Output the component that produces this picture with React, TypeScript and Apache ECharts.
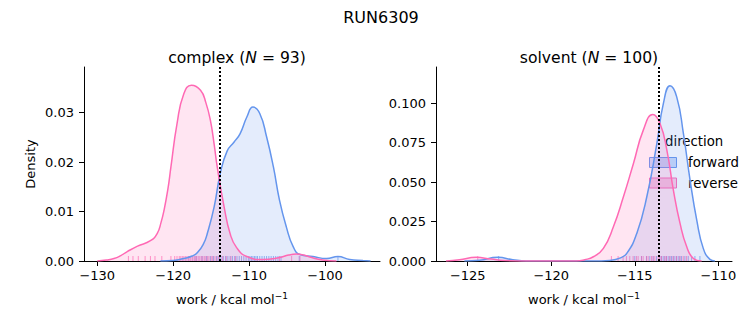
import React, { useEffect, useRef } from 'react';
import * as echarts from 'echarts';

const FONT = 'DejaVu Sans';
const BLUE = '#6495ED';
const PINK = '#FF69B4';
const BLUE_FILL = 'rgba(100,149,237,0.25)';
const PINK_FILL = 'rgba(255,105,180,0.25)';

const suptitle = 'RUN6309';
const directions = ['forward', 'reverse'];

// KDE curves: [work, density]
const complexForward: [number, number][] = [
  [-121.7, 0], [-120, 0.0001], [-118.6, 0.0005], [-117.5, 0.001], [-116.8, 0.0017],
  [-116, 0.0035], [-115.5, 0.0056], [-114.6, 0.011], [-113.8, 0.0177], [-112.9, 0.0222],
  [-112, 0.024], [-111.2, 0.0257], [-110.3, 0.0291], [-109.5, 0.0311], [-108.6, 0.0298],
  [-107.7, 0.0251], [-106.8, 0.019], [-106, 0.0123], [-105.1, 0.0069], [-104.2, 0.0029],
  [-103.3, 0.0013], [-101.6, 0.0009], [-99.8, 0.0005], [-98.3, 0.0009], [-96.75, 0.0003],
  [-95, 0.0001], [-94, 0],
];
const complexReverse: [number, number][] = [
  [-130, 0], [-128.8, 0.0002], [-127.8, 0.0005], [-126.9, 0.0011], [-126.05, 0.0019],
  [-124.7, 0.003], [-123, 0.0041], [-122.1, 0.0056], [-121.6, 0.0078], [-121.2, 0.0103],
  [-120.7, 0.0145], [-120.3, 0.019], [-119.5, 0.0277], [-118.6, 0.0338], [-117.6, 0.0355],
  [-116.4, 0.0345], [-115.7, 0.032], [-115.1, 0.0284], [-114.6, 0.0235], [-114.2, 0.019],
  [-113.3, 0.011], [-112.5, 0.0055], [-111.65, 0.0027], [-110.3, 0.0009], [-108.2, 0.0003],
  [-106, 0.0007], [-104.8, 0.0012], [-103.8, 0.0014], [-102.8, 0.0012], [-102, 0.0008],
  [-100.3, 0.0002], [-98.5, 0],
];
const solventForward: [number, number][] = [
  [-125.2, 0], [-124.3, 0.0005], [-123.2, 0.0023], [-122.3, 0.0008], [-121.5, 0],
  [-117, 0], [-116.5, 0.0003], [-115.9, 0.0018], [-115.48, 0.0048], [-114.88, 0.0175],
  [-114.28, 0.0407], [-113.68, 0.0744], [-113.29, 0.0997], [-112.89, 0.111], [-112.49, 0.104],
  [-112.09, 0.0808], [-111.69, 0.0513], [-111.29, 0.0259], [-110.9, 0.008], [-110.5, 0.001],
  [-110.2, 0],
];
const solventReverse: [number, number][] = [
  [-126.3, 0], [-125.5, 0.0008], [-124.5, 0.0023], [-123.6, 0.0012], [-122.8, 0.0003],
  [-121.5, 0], [-118.5, 0], [-118, 0.0008], [-117.48, 0.0027], [-116.88, 0.008],
  [-116.28, 0.0217], [-115.68, 0.0407], [-115.08, 0.0618], [-114.49, 0.0829], [-113.92, 0.0928],
  [-113.49, 0.0871], [-113.08, 0.0703], [-112.69, 0.0449], [-112.29, 0.0238], [-111.89, 0.009],
  [-111.49, 0.0016], [-111, 0],
];

// rug samples (work values)
const complexForwardRug = [
  -117.0, -116.2, -115.6, -115.1, -114.7, -114.3, -114.0, -113.7, -113.4, -113.1, -112.8,
  -112.5, -112.2, -111.9, -111.6, -111.3, -111.0, -110.7, -110.4, -110.1, -109.9, -109.7,
  -109.5, -109.3, -109.1, -108.9, -108.6, -108.3, -108.0, -107.7, -107.4, -107.1, -106.8,
  -106.5, -106.2, -105.8, -103.4, -98.3,
];
const complexReverseRug = [
  -125.9, -125.3, -124.6, -123.7, -123.0, -122.4, -121.5, -120.3, -119.8, -119.5, -119.2,
  -119.0, -118.8, -118.6, -118.4, -118.2, -118.0, -117.9, -117.7, -117.5, -117.4, -117.2,
  -117.0, -116.9, -116.7, -116.5, -116.3, -116.1, -115.9, -115.7, -115.5, -115.3, -115.0,
  -114.8, -114.5, -114.2, -113.9, -113.5, -113.0, -112.4, -111.8, -106.0, -104.4, -103.3,
];
const solventForwardRug = [
  -123.15, -115.0, -114.6, -114.3, -114.1, -113.9, -113.7, -113.5, -113.4, -113.3, -113.2,
  -113.1, -113.0, -112.9, -112.8, -112.7, -112.6, -112.5, -112.4, -112.3, -112.2, -112.0,
  -111.8, -111.6, -111.4, -111.1,
];
const solventReverseRug = [
  -124.4, -116.4, -116.0, -115.7, -115.5, -115.3, -115.1, -114.9, -114.8, -114.6, -114.5,
  -114.3, -114.2, -114.0, -113.9, -113.8, -113.6, -113.5, -113.4, -113.2, -113.1, -112.9,
  -112.7, -112.5, -112.3, -112.1, -111.9,
];

const complexTicksX = [-130, -120, -110, -100];
const solventTicksX = [-125, -120, -115, -110];
const complexTicksY = [0, 0.01, 0.02, 0.03];
const solventTicksY = [0, 0.025, 0.05, 0.075, 0.1];
const complexMarker = -113.86;
const solventMarker = -113.56;

const fmtMinus = (v: number) => (v < 0 ? '\u2212' + Math.abs(v) : String(v));

function xAxis(gridIndex: number, min: number, max: number, ticks: number[]) {
  return {
    type: 'value',
    gridIndex,
    min,
    max,
    axisLine: { show: true, onZero: false, lineStyle: { color: '#000', width: 1 } },
    axisTick: { show: true, length: 5, customValues: ticks, lineStyle: { color: '#000', width: 1 } },
    axisLabel: { customValues: ticks, color: '#000', fontSize: 13, fontFamily: FONT, margin: 8, formatter: fmtMinus },
    splitLine: { show: false },
    name: '{a|work / kcal mol}{s|\u22121}',
    nameLocation: 'middle',
    nameGap: 30,
    nameTextStyle: {
      color: '#000',
      fontFamily: FONT,
      fontSize: 13,
      rich: {
        a: { fontSize: 13, fontFamily: FONT, color: '#000', lineHeight: 16 },
        s: { fontSize: 9, fontFamily: FONT, color: '#000', verticalAlign: 'top', lineHeight: 9 },
      },
    },
  };
}

function yAxis(gridIndex: number, max: number, ticks: number[], digits: number, name: string) {
  return {
    type: 'value',
    gridIndex,
    min: 0,
    max,
    axisLine: { show: true, lineStyle: { color: '#000', width: 1 } },
    axisTick: { show: true, length: 5, customValues: ticks, lineStyle: { color: '#000', width: 1 } },
    axisLabel: { customValues: ticks, color: '#000', fontSize: 13, fontFamily: FONT, margin: 10, formatter: (v: number) => v.toFixed(digits) },
    splitLine: { show: false },
    name,
    nameLocation: 'middle',
    nameRotate: 90,
    nameGap: 47,
    nameTextStyle: { color: '#000', fontFamily: FONT, fontSize: 13 },
  };
}

function kde(name: string, data: [number, number][], idx: number, color: string, fill: string, marker?: number) {
  const s: any = {
    type: 'line',
    name,
    xAxisIndex: idx,
    yAxisIndex: idx,
    data,
    smooth: 0.5,
    showSymbol: false,
    symbol: 'none',
    lineStyle: { color, width: 1.5 },
    itemStyle: { color },
    areaStyle: { color: fill, origin: 'start' },
    silent: true,
  };
  if (marker !== undefined) {
    s.markLine = {
      silent: true,
      symbol: 'none',
      label: { show: false },
      lineStyle: { color: '#000', width: 2, type: [2, 2] },
      data: [{ xAxis: marker }],
      z: 10,
    };
  }
  return s;
}

function rug(name: string, values: number[], idx: number, color: string) {
  return {
    type: 'scatter',
    name,
    xAxisIndex: idx,
    yAxisIndex: idx,
    data: values.map((v) => [v, 0]),
    symbol: 'rect',
    symbolSize: [1, 5],
    symbolOffset: [0, -2.5],
    itemStyle: { color, opacity: 0.7 },
    silent: true,
    clip: false,
  };
}

function legendGraphic() {
  const items = [
    { name: directions[0], fill: 'rgba(100,149,237,0.35)', stroke: BLUE, y: 157.5 },
    { name: directions[1], fill: 'rgba(255,105,180,0.35)', stroke: PINK, y: 178 },
  ];
  const els: any[] = [
    { type: 'text', x: 665, y: 141, style: { text: 'direction', fontFamily: FONT, fontSize: 13.3, fill: '#000', verticalAlign: 'middle' } },
  ];
  items.forEach((it) => {
    els.push({ type: 'rect', shape: { x: 649.5, y: it.y, width: 27, height: 10 }, style: { fill: it.fill, stroke: it.stroke, lineWidth: 1 } });
    els.push({ type: 'text', x: 688, y: it.y + 5, style: { text: it.name, fontFamily: FONT, fontSize: 13.3, fill: '#000', verticalAlign: 'middle' } });
  });
  return els;
}

export default function App() {
  const ref = useRef<HTMLDivElement>(null);
  useEffect(() => {
    document.body.style.margin = '0';
    const chart = echarts.init(ref.current!, null, { renderer: 'svg' });
    const option: any = {
      animation: false,
      backgroundColor: '#fff',
      textStyle: { fontFamily: FONT },
      title: [
        { text: suptitle, left: 376, top: 4, textAlign: 'center', textStyle: { fontFamily: FONT, fontSize: 16, fontWeight: 'normal', color: '#000' } },
        {
          text: 'complex ({i|N} = 93)', left: 232, top: 45, textAlign: 'center',
          textStyle: { fontFamily: FONT, fontSize: 15.6, fontWeight: 'normal', color: '#000', rich: { i: { fontStyle: 'italic', fontFamily: FONT, fontSize: 15.6, color: '#000' } } },
        },
        {
          text: 'solvent ({i|N} = 100)', left: 584, top: 45, textAlign: 'center',
          textStyle: { fontFamily: FONT, fontSize: 15.6, fontWeight: 'normal', color: '#000', rich: { i: { fontStyle: 'italic', fontFamily: FONT, fontSize: 15.6, color: '#000' } } },
        },
      ],
      grid: [
        { left: 84, top: 67, width: 296, height: 194 },
        { left: 436, top: 67, width: 296, height: 194 },
      ],
      xAxis: [xAxis(0, -131.75, -92.76, complexTicksX), xAxis(1, -126.9, -109.18, solventTicksX)],
      yAxis: [yAxis(0, 0.0392, complexTicksY, 2, 'Density'), yAxis(1, 0.1229, solventTicksY, 3, '')],
      graphic: legendGraphic(),
      series: [
        kde(directions[0], complexForward, 0, BLUE, BLUE_FILL),
        kde(directions[1], complexReverse, 0, PINK, PINK_FILL, complexMarker),
        rug(directions[0] + ' rug', complexForwardRug, 0, BLUE),
        rug(directions[1] + ' rug', complexReverseRug, 0, PINK),
        kde(directions[0], solventForward, 1, BLUE, BLUE_FILL),
        kde(directions[1], solventReverse, 1, PINK, PINK_FILL, solventMarker),
        rug(directions[0] + ' rug', solventForwardRug, 1, BLUE),
        rug(directions[1] + ' rug', solventReverseRug, 1, PINK),
      ],
    };
    chart.setOption(option);
    return () => chart.dispose();
  }, []);
  return <div ref={ref} style={{ width: 753, height: 325, position: 'fixed', left: 0, top: 0 }} />;
}
